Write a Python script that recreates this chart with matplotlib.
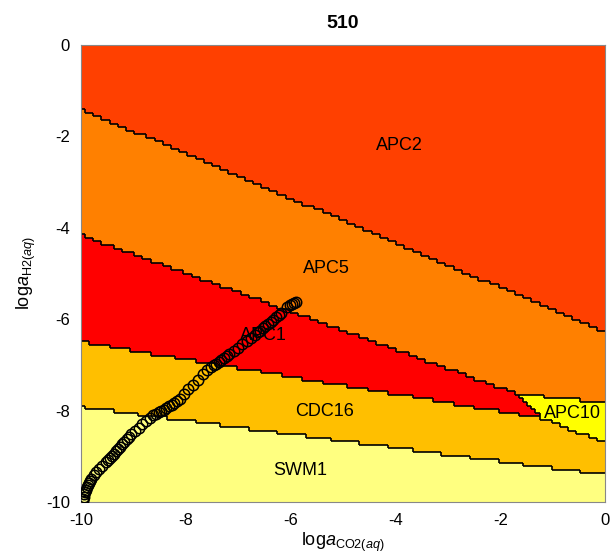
import numpy as np
import matplotlib
matplotlib.use('Agg')
import matplotlib.pyplot as plt
from matplotlib.collections import LineCollection
from matplotlib.colors import ListedColormap

plt.rcParams['font.family'] = ['Liberation Sans', 'DejaVu Sans']
plt.rcParams['mathtext.fontset'] = 'custom'
plt.rcParams['mathtext.rm'] = 'Liberation Sans'
plt.rcParams['mathtext.it'] = 'Liberation Sans:italic'
plt.rcParams['axes.unicode_minus'] = False

# fields, colours and label positions
species = ['APC2', 'APC5', 'APC1', 'APC10', 'CDC16', 'SWM1']
fill_colors = ['#FF4000', '#FF8000', '#FF0000', '#FFFF00', '#FFBF00', '#FFFF80']
label_x = [-3.93, -5.31, -6.51, -0.63, -5.36, -5.82]
label_y = [-2.19, -4.88, -6.35, -8.07, -8.01, -9.30]

# lower edge of each field (log a CO2, log a H2)
apc2_lower_x = [-10, 0]
apc2_lower_y = [-1.40, -6.28]
apc5_lower_x = [-10, -1.67, 0]
apc5_lower_y = [-4.16, -7.64, -7.83]
apc1_lower_x = [-10, -1.21, 0]
apc1_lower_y = [-6.50, -8.17, -8.71]
cdc16_lower_x = [-10, 0]
cdc16_lower_y = [-7.92, -9.41]
apc1_apc10_x = [-1.67, -1.21]
apc1_apc10_y = [-7.64, -8.17]

# trajectory points (open circles)
path_x = [-9.97, -9.96, -9.95, -9.94, -9.92, -9.91, -9.89, -9.87, -9.85, -9.83, -9.81,
          -9.76, -9.71, -9.65, -9.59,
          -9.53, -9.49, -9.45, -9.41, -9.37, -9.33, -9.29, -9.25, -9.21, -9.17, -9.13, -9.09, -9.05,
          -8.97, -8.90, -8.83, -8.76, -8.69,
          -8.62, -8.57, -8.52, -8.47, -8.42, -8.37, -8.32, -8.27, -8.22, -8.17, -8.12,
          -8.03, -7.95, -7.86, -7.77, -7.68, -7.60,
          -7.52, -7.47, -7.42, -7.37, -7.32, -7.27, -7.22, -7.17,
          -7.08, -7.00, -6.92, -6.84, -6.76,
          -6.68, -6.63, -6.58, -6.53, -6.48, -6.43, -6.38, -6.33, -6.28, -6.23, -6.18,
          -6.06, -6.02, -5.98, -5.94, -5.90]
path_y = [-9.98, -9.93, -9.88, -9.83, -9.78, -9.73, -9.68, -9.63, -9.58, -9.54, -9.50,
          -9.42, -9.35, -9.28, -9.21,
          -9.13, -9.09, -9.04, -8.99, -8.94, -8.89, -8.84, -8.79, -8.74, -8.69, -8.63, -8.58, -8.52,
          -8.44, -8.37, -8.30, -8.23, -8.16,
          -8.10, -8.07, -8.04, -8.01, -7.98, -7.94, -7.91, -7.87, -7.83, -7.79, -7.74,
          -7.63, -7.53, -7.43, -7.32, -7.21, -7.12,
          -7.05, -7.00, -6.97, -6.93, -6.89, -6.85, -6.81, -6.77,
          -6.69, -6.62, -6.55, -6.48, -6.42,
          -6.34, -6.29, -6.25, -6.20, -6.15, -6.11, -6.06, -6.01, -5.96, -5.91, -5.86,
          -5.74, -5.70, -5.67, -5.64, -5.62]

res = 128
edges = np.linspace(-10, 0, res + 1)
mid = (edges[:-1] + edges[1:]) / 2
X, Y = np.meshgrid(mid, mid)

field = np.full(X.shape, 5)
field[Y > np.interp(X, cdc16_lower_x, cdc16_lower_y)] = 4
band = Y > np.interp(X, apc1_lower_x, apc1_lower_y)
side = ((apc1_apc10_x[1] - apc1_apc10_x[0]) * (Y - apc1_apc10_y[0])
        - (apc1_apc10_y[1] - apc1_apc10_y[0]) * (X - apc1_apc10_x[0]))
field[band & (side <= 0)] = 2
field[band & (side > 0)] = 3
field[Y > np.interp(X, apc5_lower_x, apc5_lower_y)] = 1
field[Y > np.interp(X, apc2_lower_x, apc2_lower_y)] = 0

fig = plt.figure(figsize=(6.1, 5.56), dpi=100)
ax = fig.add_axes([81 / 610, 54 / 556, 524 / 610, 457 / 556])

ax.pcolormesh(edges, edges, field, cmap=ListedColormap(fill_colors),
              vmin=-0.5, vmax=5.5, zorder=0)

segs = []
for i in range(res):
    for j in range(res - 1):
        if field[i, j] != field[i, j + 1]:
            segs.append([(edges[j + 1], edges[i]), (edges[j + 1], edges[i + 1])])
for i in range(res - 1):
    for j in range(res):
        if field[i, j] != field[i + 1, j]:
            segs.append([(edges[j], edges[i + 1]), (edges[j + 1], edges[i + 1])])
ax.add_collection(LineCollection(segs, colors='black', linewidths=1.2, zorder=1))

for name, lx, ly in zip(species, label_x, label_y):
    ax.text(lx, ly, name, fontsize=13, ha='center', va='center', zorder=2)

ax.plot(path_x, path_y, 'o', mfc='none', mec='black', ms=7.5, mew=1.1, zorder=3)

ax.set_xlim(-10, 0)
ax.set_ylim(-10, 0)
ax.set_xticks(range(-10, 1, 2))
ax.set_yticks(range(-10, 1, 2))
ax.tick_params(length=0, labelsize=12, pad=8)
for sp in ax.spines.values():
    sp.set_color('#888888')
    sp.set_linewidth(0.8)

ax.set_xlabel(r'$\mathrm{log}\mathit{a}_{\mathrm{CO2(}\mathit{aq}\mathrm{)}}$', fontsize=13, labelpad=2)
ax.set_ylabel(r'$\mathrm{log}\mathit{a}_{\mathrm{H2(}\mathit{aq}\mathrm{)}}$', fontsize=13, labelpad=6)
ax.set_title('510', fontsize=14, fontweight='bold', pad=12)

fig.savefig('out.png', dpi=100)
